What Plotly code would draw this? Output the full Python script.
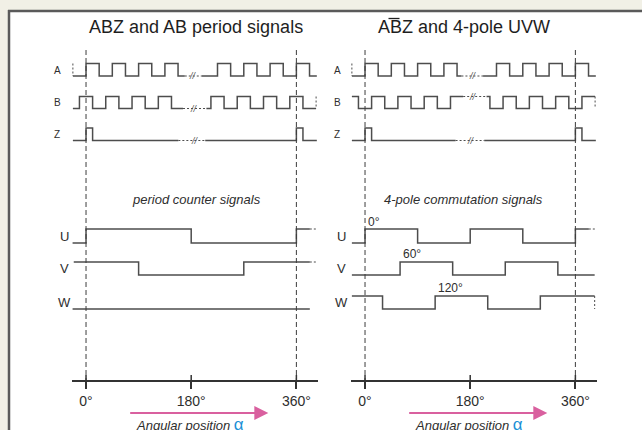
import plotly.graph_objects as go

W_PX, H_PX = 642, 430

# ---------------- data (angles in degrees) ----------------
tick_vals = [0, 180, 360]
tick_text = ["0°", "180°", "360°"]

A_edges = [0, 22.5, 45, 67.5, 90, 112.5, 135, 157.5,
           225, 247.5, 270, 292.5, 315, 337.5, 360, 382.5]
B_edges = [-11.25, 11.25, 33.75, 56.25, 78.75, 101.25, 123.75, 146.25,
           213.75, 236.25, 258.75, 281.25, 303.75, 326.25, 348.75, 371.25]
Z_edges = [0, 11.25, 360, 371.25]
U_left_edges = [0, 180, 360]
V_left_edges = [90, 270]
W_left_edges = []
U_right_edges = [0, 90, 180, 270, 360]
V_right_edges = [60, 150, 240, 330]
W_right_edges = [30, 120, 210, 300]
pole_labels = ["0°", "60°", "120°"]
pole_label_angles = [0, 60, 120]

titles = ["ABZ and AB period signals", "ABZ and 4-pole UVW"]
subtitles = ["period counter signals", "4-pole commutation signals"]

# ---------------- layout helpers ----------------
ROWS = {  # (high y px, low y px)
    "A": (63.5, 76), "B": (96.5, 108.5), "Z": (128, 140.5),
    "U": (229, 243), "V": (262, 275), "W": (296, 309),
}
LINE = "#4d4d4d"
TXT = "#2e2e2e"
AXIS_Y = 381


def px(xp):
    return xp / W_PX


def py(yp):
    return 1 - yp / H_PX


def level_at(x, init, edges):
    n = sum(1 for e in edges if e <= x)
    return init ^ (n % 2)


def ylev(row, lev):
    hi, lo = ROWS[row]
    return hi if lev else lo


fig = go.Figure()


def add_line(xs, ys, xa, dash=None, width=1.5, color=LINE, shape="linear"):
    fig.add_trace(go.Scatter(
        x=xs, y=ys, xaxis=xa, yaxis="y", mode="lines",
        line=dict(color=color, width=width, dash=dash, shape=shape),
        hoverinfo="skip", showlegend=False))


def step(row, init, edges, x0, x1, xa, dash=None, width=1.5):
    xs = [x0] + [e for e in edges if x0 < e < x1] + [x1]
    ys = [ylev(row, level_at(x, init, edges)) for x in xs]
    ys[-1] = ys[-2] if len(ys) > 1 else ys[-1]
    add_line(xs, ys, xa, dash=dash, width=width, shape="hv")


annotations = []


def signal(row, init, edges, xa, start, end, brk=None, lead_v=None,
           tail_h=None, tail_v=None):
    if brk:
        b0, b1, mark = brk
        step(row, init, edges, start, b0, xa)
        step(row, init, edges, b0, b1, xa, dash="2px,2px", width=1)
        step(row, init, edges, b1, end, xa)
        yl = ylev(row, level_at(mark, init, edges))
        annotations.append(dict(x=mark, y=yl, xref=xa, yref="y",
                                text="<i>//</i>", showarrow=False,
                                xanchor="center", yanchor="middle",
                                font=dict(size=9, color="#555")))
    else:
        step(row, init, edges, start, end, xa)
    hi, lo = ROWS[row]
    if lead_v is not None:
        add_line([lead_v, lead_v], [hi, lo], xa, dash="2px,2px", width=1)
    if tail_h is not None:
        yl = ylev(row, level_at(end, init, edges))
        add_line([end, tail_h], [yl, yl], xa, dash="2px,2px", width=1)
    if tail_v is not None:
        add_line([tail_v, tail_v], [hi, lo], xa, dash="2px,2px", width=1)


# ---- left panel ----
signal("A", 0, A_edges, "x", -22.5, 395, brk=(169, 198, 183), lead_v=-22.5)
signal("B", 0, B_edges, "x", -22.5, 393.75, brk=(166, 206, 184), tail_v=393.75)
signal("Z", 0, Z_edges, "x", -22.5, 395, brk=(158, 204, 186))
signal("U", 0, U_left_edges, "x", -23, 383, tail_h=394)
signal("V", 1, V_left_edges, "x", -21, 383, tail_h=394)
signal("W", 0, W_left_edges, "x", -23, 383)

# ---- right panel ----
signal("A", 0, A_edges, "x2", -22.5, 395, brk=(165, 202, 184), lead_v=-22.5)
signal("B", 1, B_edges, "x2", -22.5, 393.75, brk=(168, 208, 185), tail_v=393.75)
signal("Z", 0, Z_edges, "x2", -22.5, 395, brk=(155, 204, 182))
signal("U", 0, U_right_edges, "x2", -22.5, 383, tail_h=394)
signal("V", 0, V_right_edges, "x2", -22.5, 393)
signal("W", 1, W_right_edges, "x2", -22.5, 393, tail_v=393)

# guide lines, tick crossings
for xa in ("x", "x2"):
    for g in (0, 360):
        add_line([g, g], [50, AXIS_Y], xa, dash="5px,3px", width=1, color="#3c3c3c")
    for t in tick_vals:
        add_line([t, t], [375, AXIS_Y], xa, width=1.5, color="#333")
    annotations.append(dict(x=312, y=413, ax=73, ay=413, xref=xa, yref="y",
                            axref=xa, ayref="y", text="", showarrow=True,
                            arrowhead=2, arrowsize=1.4, arrowwidth=2,
                            arrowcolor="#d9609f"))
    annotations.append(dict(x=178, y=424, xref=xa, yref="y", showarrow=False,
                            xanchor="center", yanchor="middle",
                            text="<i>Angular position</i> <span style='color:#1a8fd6;font-size:17px'>α</span>",
                            font=dict(size=13, color=TXT)))

# titles & subtitles
def paper_text(xp, yp, text, size, color=TXT):
    annotations.append(dict(x=px(xp), y=py(yp), xref="paper", yref="paper",
                            text=text, showarrow=False,
                            xanchor="center", yanchor="middle",
                            font=dict(size=size, color=color)))


paper_text(196, 27, titles[0], 18, "#1e1e1e")
paper_text(464, 27, titles[1], 18, "#1e1e1e")
paper_text(196, 200, "<i>" + subtitles[0] + "</i>", 13)
paper_text(463, 200, "<i>" + subtitles[1] + "</i>", 13)

# row labels
for lx, ux in ((57, 64), (337, 342)):
    for r, yy in (("A", 70), ("B", 102), ("Z", 134)):
        paper_text(lx, yy, r, 10)
    for r, yy in (("U", 237), ("V", 268), ("W", 302)):
        paper_text(ux, yy, r, 13)

# pole angle labels
for lab, ang, yy in zip(pole_labels, pole_label_angles, (222, 254, 288)):
    annotations.append(dict(x=ang, y=yy, xref="x2", yref="y", text=lab,
                            xanchor="left", yanchor="middle", xshift=1,
                            showarrow=False, font=dict(size=12, color=TXT)))

axis_common = dict(range=[-24, 397], anchor="free", position=1 - AXIS_Y / H_PX,
                   showline=True, linecolor="#333", linewidth=2,
                   ticks="outside", ticklen=7, tickwidth=1.5, tickcolor="#333",
                   tickvals=tick_vals, ticktext=tick_text,
                   tickfont=dict(size=14, color=TXT, family="Arial, Liberation Sans"),
                   showgrid=False, zeroline=False, fixedrange=True)

shapes = [
    dict(type="rect", xref="paper", yref="paper", x0=px(8), x1=1.0, y0=0, y1=py(10),
         fillcolor="white", line=dict(width=0), layer="below"),
    dict(type="line", xref="paper", yref="paper", x0=px(9), x1=px(9), y0=0, y1=py(10),
         line=dict(color="#5a5a5a", width=2.5), layer="below"),
    dict(type="line", xref="paper", yref="paper", x0=px(8), x1=1.0, y0=py(11), y1=py(11),
         line=dict(color="#5a5a5a", width=2.5), layer="below"),
    # overline on B of right title
    dict(type="line", xref="paper", yref="paper", x0=px(388.5), x1=px(399.5),
         y0=py(18.5), y1=py(18.5), line=dict(color="#1e1e1e", width=1.3)),
]

fig.update_layout(
    width=W_PX, height=H_PX,
    margin=dict(l=0, r=0, t=0, b=0, pad=0, autoexpand=False),
    paper_bgcolor="#f1f0e6", plot_bgcolor="rgba(0,0,0,0)",
    font=dict(family="Arial, Liberation Sans", color=TXT),
    xaxis=dict(domain=[px(72), px(318)], **axis_common),
    xaxis2=dict(domain=[px(351), px(597)], **axis_common),
    yaxis=dict(domain=[0, 1], range=[H_PX, 0], visible=False, fixedrange=True),
    showlegend=False,
    annotations=annotations,
    shapes=shapes,
)

fig.write_html("out.html", config={"displayModeBar": False},
               post_script="document.body.style.margin='0px';document.body.style.padding='0px';")
